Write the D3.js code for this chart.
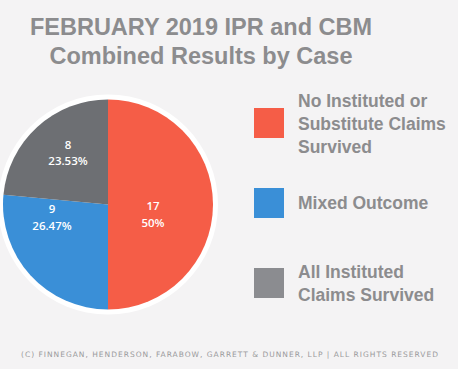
<!DOCTYPE html>
<html><head><meta charset="utf-8">
<script src="https://cdn.jsdelivr.net/npm/d3@7/dist/d3.min.js"></script>
<style>
html,body{margin:0;padding:0;background:#f4f3f4;}
svg{display:block;}
</style></head>
<body>
<svg id="c" width="458" height="369"></svg>
<script>
const titleLines = ["FEBRUARY 2019 IPR and CBM", "Combined Results by Case"];
const categories = ["No Instituted or Substitute Claims Survived", "Mixed Outcome", "All Instituted Claims Survived"];
const legendLines = [["No Instituted or", "Substitute Claims", "Survived"], ["Mixed Outcome"], ["All Instituted", "Claims Survived"]];
const values = [17, 9, 8];
const percentLabels = ["50%", "26.47%", "23.53%"];
const sliceColors = ["#f55d47", "#3a8fd7", "#6d6f73"];
const legendColors = ["#f55d47", "#3a8fd7", "#8b8c90"];
const footer = "(C) FINNEGAN, HENDERSON, FARABOW, GARRETT & DUNNER, LLP | ALL RIGHTS RESERVED";

const svg = d3.select("#c");
const textGray = "#8c8c8e";

// Title
svg.selectAll("text.title").data(titleLines).join("text")
  .attr("class","title")
  .attr("x", 201).attr("y", (d,i) => 35 + i*29)
  .attr("text-anchor","middle")
  .attr("font-family","'Liberation Sans', Arial, sans-serif")
  .attr("font-weight","bold").attr("font-size", 23.5)
  .attr("fill", textGray)
  .text(d => d);

// Pie
const cx = 108, cy = 204.5, r = 105;
const g = svg.append("g").attr("transform", `translate(${cx},${cy})`);
g.append("circle").attr("r", r + 5).attr("fill", "#ffffff");
const pie = d3.pie().sort(null).value(d => d)(values);
const arc = d3.arc().innerRadius(0).outerRadius(r);
g.selectAll("path").data(pie).join("path")
  .attr("d", arc)
  .attr("fill", (d,i) => sliceColors[i]);

const labelPos = [[45, 5.5], [-56, 8.5], [-40, -56]];
const lbl = g.selectAll("text.lbl").data(pie).join("text").attr("class","lbl")
  .attr("transform", (d,i) => `translate(${labelPos[i][0]},${labelPos[i][1]})`)
  .attr("text-anchor","middle")
  .attr("font-family","'Open Sans', sans-serif").attr("font-size", 11.5).attr("font-weight", 600)
  .attr("fill","#ffffff");
lbl.append("tspan").attr("x", 0).attr("y", 0).text(d => d.value);
lbl.append("tspan").attr("x", 0).attr("y", 16.5).text((d,i) => percentLabels[i]);

// Legend
const legY = [108, 188, 268];
const leg = svg.selectAll("g.leg").data(categories).join("g").attr("class","leg")
  .attr("transform", (d,i) => `translate(254,${legY[i]})`);
leg.append("rect").attr("width", 30).attr("height", 30)
  .attr("fill", (d,i) => legendColors[i]);
const textTop = [107, 209, 278];
leg.each(function(d,i){
  const sel = d3.select(this);
  legendLines[i].forEach((line, j) => {
    sel.append("text")
      .attr("x", 44).attr("y", textTop[i] - legY[i] + j*23)
      .attr("font-family","'Liberation Sans', Arial, sans-serif")
      .attr("font-weight","bold").attr("font-size", 17.5)
      .attr("fill", textGray).text(line);
  });
});

// Footer
svg.append("text").attr("x", 21).attr("y", 357)
  .attr("font-family","'DejaVu Sans', sans-serif").attr("font-size", 7.5)
  .attr("textLength", 417).attr("lengthAdjust","spacing")
  .attr("fill", "#9a9a9c").text(footer);
</script>
</body></html>
